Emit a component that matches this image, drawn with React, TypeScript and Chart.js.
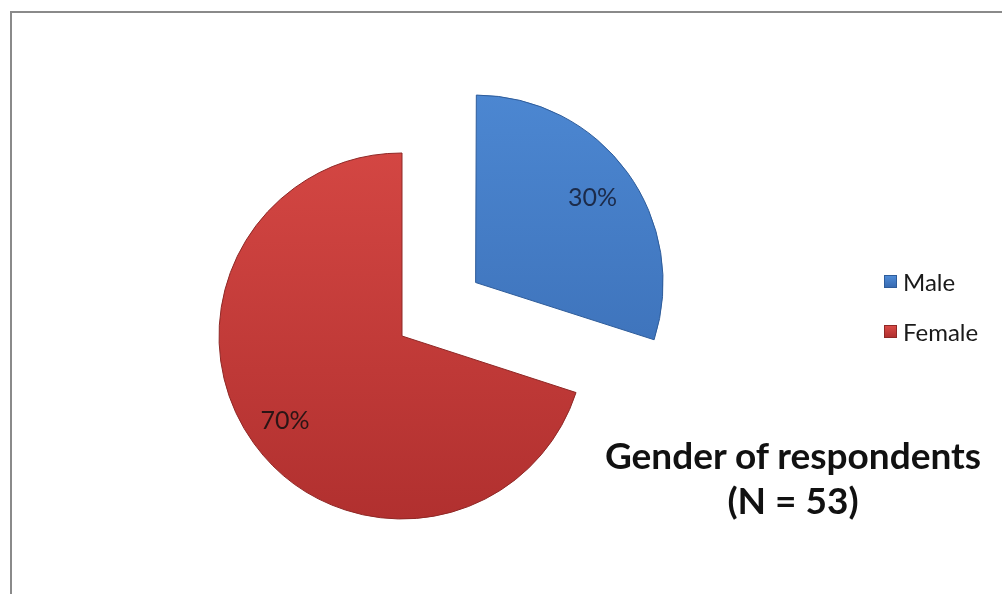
import React, { useEffect, useRef } from "react";
import { Chart, registerables } from "chart.js";

Chart.register(...registerables);

const categories = ["Male", "Female"];
const percentages = [30, 70];
const percentLabels = ["30%", "70%"];
const explodeOffsets = [364, 0];
const titleLines = ["Gender of respondents", "(N = 53)"];

const FONT = "Lato, 'Open Sans', sans-serif";

const sliceColors = [
  { top: "#4f8bd6", bottom: "#386bb2", border: "#2e5c9a" },
  { top: "#d94a46", bottom: "#b1302f", border: "#8f2826" },
];

const labelPlugin = {
  id: "sliceLabels",
  afterDatasetsDraw(chart: any) {
    const meta = chart.getDatasetMeta(0);
    const ctx = chart.ctx;
    ctx.save();
    ctx.font = `25px ${FONT}`;
    ctx.textAlign = "center";
    ctx.textBaseline = "middle";
    meta.data.forEach((arc: any, i: number) => {
      const { x, y, startAngle, endAngle, outerRadius } = arc.getProps(
        ["x", "y", "startAngle", "endAngle", "outerRadius"],
        true
      );
      const mid = (startAngle + endAngle) / 2;
      const shift = (arc.options.offset || 0) / 4;
      const d = shift + outerRadius * 0.79;
      ctx.fillStyle = i === 0 ? "#1c2b4a" : "#2b1515";
      ctx.fillText(percentLabels[i], x + Math.cos(mid) * d, y + Math.sin(mid) * d);
    });
    ctx.restore();
  },
};

function gradientFor(idx: number) {
  return (c: any) => {
    const chart = c.chart;
    const g = chart.ctx.createLinearGradient(0, 90, 0, 520);
    g.addColorStop(0, sliceColors[idx].top);
    g.addColorStop(1, sliceColors[idx].bottom);
    return g;
  };
}

export default function App() {
  const ref = useRef<HTMLCanvasElement | null>(null);

  useEffect(() => {
    if (!ref.current) return;
    const chart = new Chart(ref.current, {
      type: "pie",
      data: {
        labels: categories,
        datasets: [
          {
            data: percentages,
            backgroundColor: (c: any) => gradientFor(c.dataIndex)(c),
            borderColor: sliceColors.map((s) => s.border),
            borderWidth: 1,
            offset: explodeOffsets,
            clip: false as any,
          } as any,
        ],
      },
      options: {
        animation: false,
        responsive: false,
        radius: 183,
        layout: { padding: { left: 20, right: 218, top: 100, bottom: 22 } },
        plugins: {
          legend: { display: false },
          title: { display: false },
          tooltip: { enabled: false },
        },
        events: [],
      } as any,
      plugins: [labelPlugin],
    });
    return () => chart.destroy();
  }, []);

  return (
    <div
      style={{
        position: "fixed",
        left: 0,
        top: 0,
        width: 1002,
        height: 594,
        background: "#fff",
        overflow: "hidden",
        fontFamily: FONT,
      }}
    >
      <div
        style={{
          position: "absolute",
          left: 10,
          top: 11,
          width: 1100,
          height: 700,
          borderTop: "2px solid #8a8a8a",
          borderLeft: "2px solid #8a8a8a",
        }}
      />
      <canvas
        ref={ref}
        width={1002}
        height={594}
        style={{ position: "absolute", left: 0, top: 0, width: 1002, height: 594 }}
      />
      <div style={{ position: "absolute", left: 884, top: 266 }}>
        {categories.map((cat, i) => (
          <div
            key={cat}
            style={{
              display: "flex",
              alignItems: "center",
              height: 30,
              marginBottom: 20,
              fontSize: 24,
              color: "#1a1a1a",
            }}
          >
            <span
              style={{
                display: "inline-block",
                width: 13,
                height: 13,
                marginRight: 6,
                background: `linear-gradient(${sliceColors[i].top}, ${sliceColors[i].bottom})`,
                border: `1px solid ${sliceColors[i].border}`,
                boxSizing: "border-box",
              }}
            />
            <span>{cat}</span>
          </div>
        ))}
      </div>
      <div
        style={{
          position: "absolute",
          left: 593,
          top: 432,
          width: 400,
          textAlign: "center",
          fontWeight: 700,
          fontSize: 37,
          lineHeight: "45px",
          color: "#111",
        }}
      >
        {titleLines.map((l) => (
          <div key={l}>{l}</div>
        ))}
      </div>
    </div>
  );
}
